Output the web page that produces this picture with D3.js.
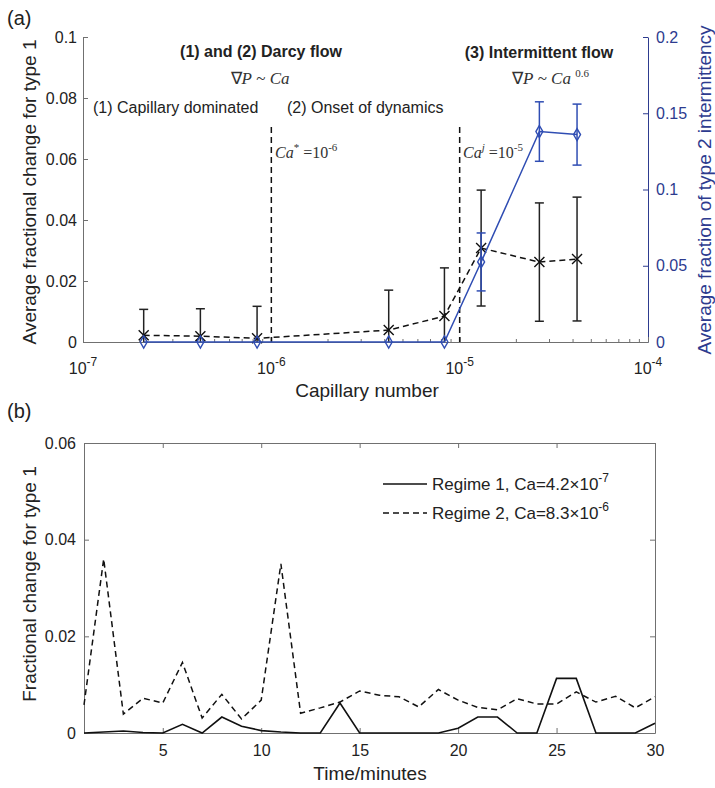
<!DOCTYPE html>
<html>
<head>
<meta charset="utf-8">
<script src="https://cdn.jsdelivr.net/npm/d3@7"></script>
<style>
body { margin: 0; background: #fff; }
text { font-family: "Liberation Sans", Arial, sans-serif; fill: #222; }
</style>
</head>
<body>
<svg id="chart" width="715" height="788"></svg>
<script>
// panel (a) data
var caNumbers = [2.1e-7, 4.2e-7, 8.4e-7, 4.2e-6, 8.3e-6, 1.3e-5, 2.65e-5, 4.2e-5]
var type1Mean = [0.0022, 0.0019, 0.0012, 0.0039, 0.0085, 0.0308, 0.0262, 0.0272]
var type1Err = [0.0085, 0.0090, 0.0105, 0.0131, 0.0158, 0.0190, 0.0194, 0.0203]
var type2Mean = [0, 0, 0, 0, 0, 0.0525, 0.138, 0.136]
var type2Err = [0, 0, 0, 0, 0, 0.019, 0.0195, 0.020]
var thresholds = [1e-6, 1e-5]
var leftTicks = [0, 0.02, 0.04, 0.06, 0.08, 0.1]
var rightTicks = [0, 0.05, 0.1, 0.15, 0.2]
var decades = [1e-7, 1e-6, 1e-5, 1e-4]

// panel (b) data
var timeMinutes = [1, 2, 3, 4, 5, 6, 7, 8, 9, 10, 11, 12, 13, 14, 15,
                   16, 17, 18, 19, 20, 21, 22, 23, 24, 25, 26, 27, 28, 29, 30]
var regime1 = [0, 0.0002, 0.0004, 0.0001, 0, 0.0018, 0, 0.0033, 0.0014, 0.0005,
               0.0002, 0, 0, 0.0062, 0, 0, 0, 0, 0, 0.001,
               0.0033, 0.0033, 0, 0, 0.0113, 0.0113, 0, 0, 0, 0.002]
var regime2 = [0.0058, 0.036, 0.0039, 0.0072, 0.0062, 0.0146, 0.0031, 0.008, 0.0029, 0.0068,
               0.035, 0.0041, 0.0052, 0.0064, 0.0087, 0.0078, 0.0075, 0.0054, 0.009, 0.0068,
               0.0053, 0.0048, 0.0071, 0.006, 0.006, 0.0085, 0.0064, 0.0076, 0.0052, 0.0075]
var timeTicks = [5, 10, 15, 20, 25, 30]
var bTicks = [0, 0.02, 0.04, 0.06]

var svg = d3.select('#chart')
var axisBlue = '#2d3b8f', lineBlue = '#2f4db3', gray = '#707070'

function styleAxis(g, color, textColor) {
  g.select('.domain').attr('stroke', color)
  g.selectAll('.tick line').attr('stroke', color)
  g.selectAll('.tick text').attr('font-size', 16).style('fill', textColor)
}

// ---------- panel (a) ----------
var pa = { left: 83, right: 648, top: 37, bottom: 342 }
var x = d3.scaleLog().domain([1e-7, 1e-4]).range([pa.left, pa.right])
var yL = d3.scaleLinear().domain([0, 0.1]).range([pa.bottom, pa.top])
var yR = d3.scaleLinear().domain([0, 0.2]).range([pa.bottom, pa.top])

svg.append('defs').append('clipPath').attr('id', 'clipA')
  .append('rect').attr('x', pa.left).attr('y', pa.top - 10)
  .attr('width', pa.right - pa.left).attr('height', pa.bottom - pa.top + 10)

svg.append('g').attr('transform', 'translate(' + pa.left + ',0)')
  .call(d3.axisLeft(yL).tickValues(leftTicks).tickSize(-5).tickSizeOuter(0).tickPadding(6).tickFormat(d3.format('~g')))
  .call(styleAxis, gray, '#222')

svg.append('g').attr('transform', 'translate(' + pa.right + ',0)')
  .call(d3.axisRight(yR).tickValues(rightTicks).tickSize(-5).tickSizeOuter(0).tickPadding(8).tickFormat(d3.format('~g')))
  .call(styleAxis, axisBlue, axisBlue)

var minor = x.ticks().filter(function(d) { return decades.indexOf(d) < 0 })
var bottomA = svg.append('g').attr('transform', 'translate(0,' + pa.bottom + ')')
bottomA.call(d3.axisBottom(x).tickValues(decades).tickSize(-5).tickSizeOuter(0).tickFormat(''))
  .call(styleAxis, gray, '#222')
bottomA.selectAll('.minor').data(minor).enter().append('line')
  .attr('x1', function(d) { return x(d) }).attr('x2', function(d) { return x(d) })
  .attr('y1', 0).attr('y2', -3).attr('stroke', gray)

var decLabels = bottomA.selectAll('.declabel').data(decades).enter().append('text')
  .attr('x', function(d) { return x(d) }).attr('y', 32)
  .attr('text-anchor', 'middle').attr('font-size', 16)
decLabels.append('tspan').text('10')
decLabels.append('tspan').attr('dy', -8).attr('font-size', 12)
  .text(function(d) { return '-' + Math.round(-Math.log10(d)) })

svg.append('text').attr('x', 367).attr('y', 397).attr('text-anchor', 'middle')
  .attr('font-size', 19).text('Capillary number')
svg.append('text').attr('transform', 'translate(36,192) rotate(-90)')
  .attr('text-anchor', 'middle').attr('font-size', 19).text('Average fractional change for type 1')
svg.append('text').attr('transform', 'translate(711,190) rotate(-90)')
  .attr('text-anchor', 'middle').attr('font-size', 19).style('fill', axisBlue)
  .text('Average fraction of type 2 intermittency')
svg.append('text').attr('x', 7).attr('y', 25).attr('font-size', 20).text('(a)')

// threshold lines
svg.selectAll('.thr').data(thresholds).enter().append('line')
  .attr('x1', function(d) { return x(d) }).attr('x2', function(d) { return x(d) })
  .attr('y1', yL(0.0705)).attr('y2', yL(0))
  .attr('stroke', '#111').attr('stroke-width', 1.5).attr('stroke-dasharray', '6,4')

// annotations
function note(xp, yp, opts) {
  var t = svg.append('text').attr('x', xp).attr('y', yp).attr('font-size', opts.size || 16)
    .attr('text-anchor', opts.anchor || 'start')
  if (opts.bold) t.attr('font-weight', 'bold')
  return t
}
note(261, 57, { bold: true, anchor: 'middle' }).text('(1) and (2) Darcy flow')
note(539, 58, { bold: true, anchor: 'middle' }).text('(3) Intermittent flow')
note(93, 113, {}).text('(1) Capillary dominated')
note(287, 113, {}).text('(2) Onset of dynamics')

var serif = '"Liberation Serif", "Times New Roman", serif'
var g1 = note(260, 84, { anchor: 'middle', size: 17 }).style('font-family', serif).style('fill', '#333')
g1.append('tspan').text('\u2207')
g1.append('tspan').attr('font-style', 'italic').text('P')
g1.append('tspan').text(' ~ ')
g1.append('tspan').attr('font-style', 'italic').text('Ca')

var g2 = note(512, 84, { size: 17 }).style('font-family', serif).style('fill', '#333')
g2.append('tspan').text('\u2207')
g2.append('tspan').attr('font-style', 'italic').text('P')
g2.append('tspan').text(' ~ ')
g2.append('tspan').attr('font-style', 'italic').text('Ca ')
g2.append('tspan').attr('dy', -7).attr('font-size', 11).text('0.6')

var c1 = note(275, 158, {}).style('font-family', serif).style('fill', '#333')
c1.append('tspan').attr('font-style', 'italic').text('Ca')
c1.append('tspan').attr('dy', -7).attr('font-size', 11).text('*')
c1.append('tspan').attr('dy', 7).text(' =10')
c1.append('tspan').attr('dy', -7).attr('font-size', 11).text('-6')

var c2 = note(463, 158, {}).style('font-family', serif).style('fill', '#333')
c2.append('tspan').attr('font-style', 'italic').text('Ca')
c2.append('tspan').attr('dy', -7).attr('font-size', 11).attr('font-style', 'italic').text('j')
c2.append('tspan').attr('dy', 7).text(' =10')
c2.append('tspan').attr('dy', -7).attr('font-size', 11).text('-5')

var dataA = caNumbers.map(function(c, i) {
  return { ca: c, m1: type1Mean[i], e1: type1Err[i], m2: type2Mean[i], e2: type2Err[i] }
})

function errorBars(sel, yScale, mKey, eKey, color) {
  var eb = sel.selectAll('g').data(dataA.filter(function(d) { return d[eKey] > 0 }))
    .enter().append('g').attr('stroke', color).attr('stroke-width', 1.5)
  eb.append('line').attr('x1', function(d) { return x(d.ca) }).attr('x2', function(d) { return x(d.ca) })
    .attr('y1', function(d) { return yScale(d[mKey] - d[eKey]) })
    .attr('y2', function(d) { return yScale(d[mKey] + d[eKey]) })
  ;[-1, 1].forEach(function(s) {
    eb.append('line').attr('x1', function(d) { return x(d.ca) - 4.5 }).attr('x2', function(d) { return x(d.ca) + 4.5 })
      .attr('y1', function(d) { return yScale(d[mKey] + s * d[eKey]) })
      .attr('y2', function(d) { return yScale(d[mKey] + s * d[eKey]) })
  })
}

errorBars(svg.append('g').attr('clip-path', 'url(#clipA)'), yL, 'm1', 'e1', '#222')

svg.append('path').datum(dataA)
  .attr('d', d3.line().x(function(d) { return x(d.ca) }).y(function(d) { return yL(d.m1) }))
  .attr('fill', 'none').attr('stroke', '#111').attr('stroke-width', 1.5).attr('stroke-dasharray', '6,4')

svg.selectAll('.cross').data(dataA).enter().append('path')
  .attr('transform', function(d) { return 'translate(' + x(d.ca) + ',' + yL(d.m1) + ')' })
  .attr('d', 'M-5,-5L5,5M-5,5L5,-5').attr('stroke', '#111').attr('stroke-width', 1.4)

svg.append('path').datum(dataA)
  .attr('d', d3.line().x(function(d) { return x(d.ca) }).y(function(d) { return yR(d.m2) }))
  .attr('fill', 'none').attr('stroke', lineBlue).attr('stroke-width', 1.5)

errorBars(svg.append('g').attr('clip-path', 'url(#clipA)'), yR, 'm2', 'e2', lineBlue)

svg.selectAll('.diamond').data(dataA).enter().append('path')
  .attr('transform', function(d) { return 'translate(' + x(d.ca) + ',' + yR(d.m2) + ')' })
  .attr('d', d3.symbol(d3.symbolDiamond, 42))
  .attr('fill', 'none').attr('stroke', lineBlue).attr('stroke-width', 1.4)

// ---------- panel (b) ----------
var pb = { left: 84, right: 655, top: 443, bottom: 733 }
var xb = d3.scaleLinear().domain([1, 30]).range([pb.left, pb.right])
var yb = d3.scaleLinear().domain([0, 0.06]).range([pb.bottom, pb.top])

svg.append('g').attr('transform', 'translate(0,' + pb.bottom + ')')
  .call(d3.axisBottom(xb).tickValues(timeTicks).tickSize(-5).tickSizeOuter(0).tickPadding(12))
  .call(styleAxis, gray, '#222')
svg.append('g').attr('transform', 'translate(0,' + pb.top + ')')
  .call(d3.axisTop(xb).tickValues(timeTicks).tickSize(-5).tickSizeOuter(0).tickFormat(''))
  .call(styleAxis, gray, '#222')
svg.append('g').attr('transform', 'translate(' + pb.left + ',0)')
  .call(d3.axisLeft(yb).tickValues(bTicks).tickSize(-5).tickSizeOuter(0).tickPadding(8).tickFormat(d3.format('~g')))
  .call(styleAxis, gray, '#222')
svg.append('g').attr('transform', 'translate(' + pb.right + ',0)')
  .call(d3.axisRight(yb).tickValues(bTicks).tickSize(-5).tickSizeOuter(0).tickFormat(''))
  .call(styleAxis, gray, '#222')

svg.append('text').attr('x', 370).attr('y', 780).attr('text-anchor', 'middle')
  .attr('font-size', 19).text('Time/minutes')
svg.append('text').attr('transform', 'translate(36,584) rotate(-90)')
  .attr('text-anchor', 'middle').attr('font-size', 19).text('Fractional change for type 1')
svg.append('text').attr('x', 7).attr('y', 418).attr('font-size', 20).text('(b)')

var lineB = function(vals) {
  return d3.line().x(function(d, i) { return xb(timeMinutes[i]) }).y(function(d) { return yb(d) })(vals)
}
svg.append('path').attr('d', lineB(regime2)).attr('fill', 'none')
  .attr('stroke', '#111').attr('stroke-width', 1.5).attr('stroke-dasharray', '6,4')
svg.append('path').attr('d', lineB(regime1)).attr('fill', 'none')
  .attr('stroke', '#111').attr('stroke-width', 1.6)

// legend
var legend = [
  { label: 'Regime 1, Ca=4.2\u00d710', exp: '-7', dash: null },
  { label: 'Regime 2, Ca=8.3\u00d710', exp: '-6', dash: '6,4' }
]
legend.forEach(function(l, i) {
  var ly = 484 + i * 29
  svg.append('line').attr('x1', 383).attr('x2', 427).attr('y1', ly).attr('y2', ly)
    .attr('stroke', '#111').attr('stroke-width', 1.5).attr('stroke-dasharray', l.dash)
  var t = svg.append('text').attr('x', 432).attr('y', ly + 6).attr('font-size', 17)
  t.append('tspan').text(l.label)
  t.append('tspan').attr('dy', -8).attr('font-size', 12).text(l.exp)
})
</script>
</body>
</html>
